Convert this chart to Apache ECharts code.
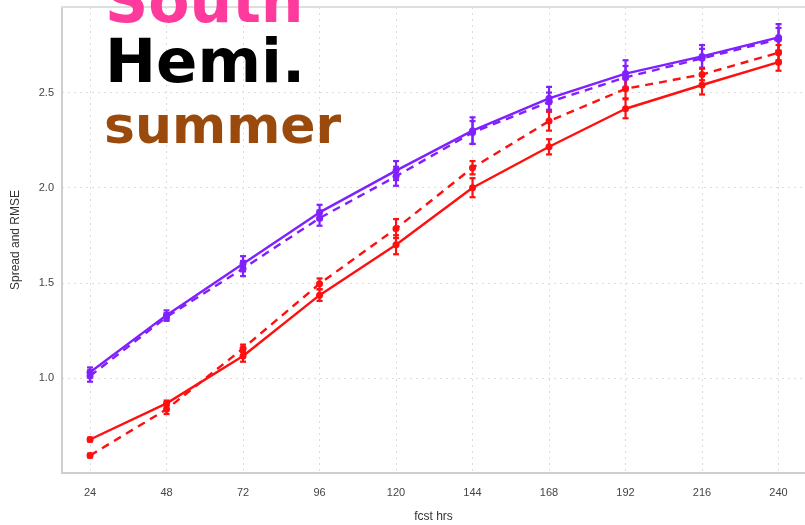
<!DOCTYPE html>
<html>
<head>
<meta charset="utf-8">
<script src="https://cdn.jsdelivr.net/npm/echarts@6/dist/echarts.min.js"></script>
<style>
  html, body { margin: 0; padding: 0; background: #fff; }
  #chart { width: 805px; height: 525px; }
</style>
</head>
<body>
<div id="chart"></div>
<script>
// Forecast lead times (hours)
const hours = [24, 48, 72, 96, 120, 144, 168, 192, 216, 240];
const yTicks = [1.0, 1.5, 2.0, 2.5];

// Purple experiment: RMSE (solid) and spread (dashed)
const purpleRmse   = [1.03, 1.33, 1.60, 1.87, 2.09, 2.30, 2.47, 2.60, 2.69, 2.79];
const purpleSpread = [1.01, 1.32, 1.575, 1.84, 2.06, 2.29, 2.45, 2.58, 2.68, 2.78];
// Red experiment: RMSE (solid) and spread (dashed)
const redRmse      = [0.676, 0.866, 1.115, 1.435, 1.70, 2.00, 2.215, 2.415, 2.54, 2.66];
const redSpread    = [0.592, 0.835, 1.155, 1.495, 1.785, 2.105, 2.35, 2.52, 2.595, 2.71];

// Half-widths of the confidence bars
const purpleRmseErr   = [0.025, 0.025, 0.04, 0.04, 0.05, 0.07, 0.06, 0.07, 0.06, 0.07];
const purpleSpreadErr = [0.03, 0.02, 0.04, 0.04, 0.05, 0.06, 0.05, 0.06, 0.05, 0.06];
const redRmseErr      = [0.01, 0.015, 0.03, 0.03, 0.05, 0.05, 0.04, 0.05, 0.05, 0.045];
const redSpreadErr    = [0.01, 0.025, 0.02, 0.028, 0.05, 0.035, 0.05, 0.05, 0.03, 0.04];

const PURPLE = '#8020ff';
const RED = '#ff1010';

function lineSeries(name, values, color, dashed) {
  return {
    name: name,
    type: 'line',
    data: hours.map((h, i) => [h, values[i]]),
    symbol: 'circle',
    symbolSize: 7,
    itemStyle: { color: color },
    lineStyle: { color: color, width: 2.4, type: dashed ? [8, 6] : 'solid' },
    z: 3
  };
}

function errorSeries(values, errs, color) {
  return {
    type: 'custom',
    data: hours.map((h, i) => [h, values[i] - errs[i], values[i] + errs[i]]),
    renderItem: function (params, api) {
      const lo = api.coord([api.value(0), api.value(1)]);
      const hi = api.coord([api.value(0), api.value(2)]);
      const cap = 3;
      const style = { stroke: color, lineWidth: 2.2, fill: null };
      return {
        type: 'group',
        children: [
          { type: 'line', shape: { x1: lo[0], y1: lo[1], x2: hi[0], y2: hi[1] }, style: style },
          { type: 'line', shape: { x1: lo[0] - cap, y1: lo[1], x2: lo[0] + cap, y2: lo[1] }, style: style },
          { type: 'line', shape: { x1: hi[0] - cap, y1: hi[1], x2: hi[0] + cap, y2: hi[1] }, style: style }
        ]
      };
    },
    z: 2
  };
}

const labelFont = { color: '#444', fontFamily: 'Liberation Sans, Arial, sans-serif', fontSize: 11 };

const chart = echarts.init(document.getElementById('chart'), null, { renderer: 'canvas' });
chart.setOption({
  animation: false,
  backgroundColor: '#fff',
  grid: { left: 62, right: 0, top: 7, bottom: 52, outerBoundsMode: 'none', containLabel: false },
  xAxis: [{
    type: 'value',
    min: 15.2,
    max: 248.3,
    name: 'fcst hrs',
    nameLocation: 'middle',
    nameGap: 38,
    nameTextStyle: Object.assign({}, labelFont, { fontSize: 12, color: '#333' }),
    axisLine: { show: true, lineStyle: { color: '#cfcfcf', width: 2 } },
    axisTick: { show: false, customValues: hours },
    axisLabel: Object.assign({ customValues: hours, margin: 14 }, labelFont),
    splitLine: { show: true, lineStyle: { color: '#dcdcdc', type: [2, 4], width: 1 } }
  }, {
    type: 'value',
    position: 'top',
    min: 15.2,
    max: 248.3,
    axisLine: { show: true, lineStyle: { color: '#dedede', width: 2 } },
    axisTick: { show: false },
    axisLabel: { show: false },
    splitLine: { show: false }
  }],
  yAxis: {
    type: 'value',
    min: 0.5,
    max: 2.95,
    name: 'Spread and RMSE',
    nameLocation: 'middle',
    nameGap: 40,
    nameTextStyle: Object.assign({}, labelFont, { fontSize: 12, color: '#333' }),
    axisLine: { show: true, lineStyle: { color: '#cfcfcf', width: 2 } },
    axisTick: { show: false, customValues: yTicks },
    axisLabel: Object.assign({ customValues: yTicks, margin: 8, formatter: v => v.toFixed(1) }, labelFont),
    splitLine: { show: true, lineStyle: { color: '#dcdcdc', type: [2, 4], width: 1 } }
  },
  graphic: [
    { type: 'text', left: 105, top: -24, z: 10,
      style: { text: 'South', fill: '#fe3a9c', font: 'bold 60px "DejaVu Sans"' } },
    { type: 'text', left: 105, top: 36, z: 10,
      style: { text: 'Hemi.', fill: '#000000', font: 'bold 61px "DejaVu Sans"' } },
    { type: 'text', left: 104, top: 103, z: 10,
      style: { text: 'summer', fill: '#9a4a0c', font: 'bold 52px "DejaVu Sans"' } }
  ],
  series: [
    errorSeries(purpleRmse, purpleRmseErr, PURPLE),
    errorSeries(purpleSpread, purpleSpreadErr, PURPLE),
    errorSeries(redRmse, redRmseErr, RED),
    errorSeries(redSpread, redSpreadErr, RED),
    lineSeries('purple RMSE', purpleRmse, PURPLE, false),
    lineSeries('purple spread', purpleSpread, PURPLE, true),
    lineSeries('red RMSE', redRmse, RED, false),
    lineSeries('red spread', redSpread, RED, true)
  ]
});
</script>
</body>
</html>
